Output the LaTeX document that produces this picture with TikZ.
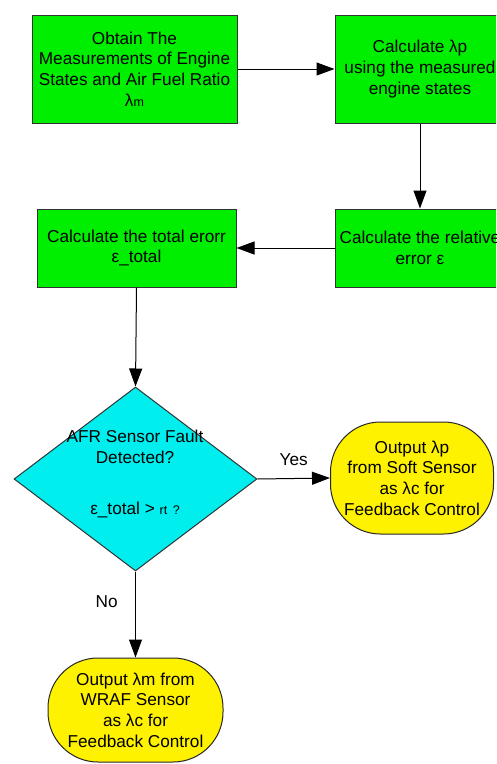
\documentclass[tikz,border=0pt]{standalone}
\usepackage{fontspec}
\setmainfont{Liberation Sans}
\usetikzlibrary{arrows.meta,shapes.geometric}
\begin{document}
\begin{tikzpicture}[x=1pt,y=-1pt,
  font=\fontsize{17.2}{20.6}\selectfont,
  box/.style={draw=black!80,line width=1pt,fill=boxgreen,align=center,inner sep=0pt},
  stad/.style={draw=black!85,line width=1pt,fill=yellow,align=center,inner sep=0pt,rounded corners=50pt},
  arr/.style={draw=black,line width=1pt,-{Triangle[length=18pt,width=13pt]}},
  lab/.style={font=\fontsize{17.2}{18}\selectfont}]
\definecolor{boxgreen}{RGB}{0,238,0}
\definecolor{dcyan}{RGB}{0,238,238}
\useasboundingbox (0,0) rectangle (496,764);
\clip (0,0) rectangle (496,764);
% boxes
\node[box,minimum width=205pt,minimum height=108pt] (b1) at (134.5,69) {Obtain The\\Measurements of Engine\\States and Air Fuel Ratio\\λ{\fontsize{12.5}{20.6}\selectfont m}};
\node[box,minimum width=170pt,minimum height=108pt] (b2) at (420,69) {Calculate λp\\using the measured\\engine states};
\node[box,minimum width=170pt,minimum height=78pt] (b3) at (420,248) {Calculate the relative\\error ε};
\node[box,minimum width=199pt,minimum height=78pt] (b4) at (136.5,248) {Calculate the total erorr\\ε\_total};
% diamond
\node[diamond,draw=black!80,line width=1pt,fill=dcyan,minimum width=243pt,minimum height=184pt,inner sep=0pt] (d) at (135.5,479) {};
\node[align=center] (dt) at (135,447) {AFR Sensor Fault\\Detected?};
\node (dt2) at (135,510) {ε\_total > {\fontsize{12.5}{14}\selectfont rt\, ?}};
% stadiums
\node[stad,minimum width=163pt,minimum height=112pt] (s1) at (412,478) {Output λp\\from Soft Sensor\\as λc for\\Feedback Control};
\node[stad,minimum width=175pt,minimum height=104pt] (s2) at (135.5,710) {Output λm from\\WRAF Sensor\\as λc for\\Feedback Control};
% arrows
\draw[arr] (b1.east) -- (b2.west);
\draw[arr] (b2.south) -- (b3.north);
\draw[arr] (b3.west) -- (b4.east);
\draw[arr] (b4.south) -- (d.north);
\draw[arr] (d.east) -- node[lab,above=9pt] (yes) {Yes} (s1.west);
\draw[arr] (d.south) -- node[lab,pos=0.35,left=14pt] (no) {No} (s2.north);
\end{tikzpicture}
\end{document}
